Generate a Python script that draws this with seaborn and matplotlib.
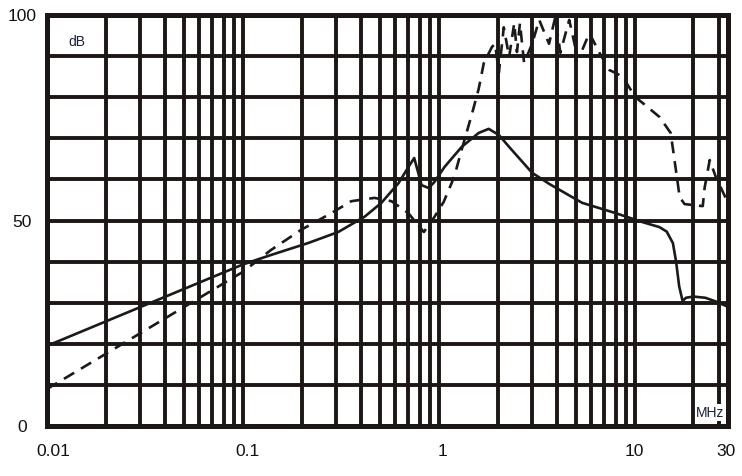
import numpy as np
import pandas as pd
import matplotlib
matplotlib.use('Agg')
import matplotlib.pyplot as plt
import matplotlib.transforms as mtrans
import seaborn as sns

# solid curve (frequency in MHz, level in dB)
solid_f = [0.01, 0.1, 0.139, 0.215, 0.307, 0.418, 0.51, 0.624, 0.70, 0.75,
           0.818, 0.889, 0.952, 1.07, 1.31, 1.6, 1.8, 2.03, 2.29, 3.0, 3.7,
           5.4, 8.0, 11.0, 13.4, 14.6, 15.7, 16.3, 16.9, 17.6, 18.3, 20.0,
           23.0, 26.0, 30.0]
solid_db = [19.5, 39.3, 41.6, 44.5, 47.2, 50.9, 54.3, 59.1, 63.0, 65.2,
            58.6, 57.9, 59.4, 63.0, 67.9, 71.3, 72.3, 70.8, 67.9, 61.6, 58.8,
            54.3, 51.8, 49.6, 48.4, 47.3, 44.5, 40.0, 34.0, 30.4, 31.2, 31.5,
            31.2, 30.3, 29.0]

# dashed curve
dash_f = [0.01, 0.1, 0.139, 0.198, 0.283, 0.358, 0.47, 0.574, 0.70, 0.84,
          0.952, 1.06, 1.2, 1.31, 1.48, 1.6, 1.7, 1.87, 1.94, 2.03, 2.15,
          2.29, 2.43, 2.51, 2.60, 2.73, 3.0, 3.26, 3.66, 3.94, 4.18, 4.64,
          4.98, 5.41, 5.88, 6.62, 7.44, 8.0, 8.68, 10.1, 11.0, 13.4, 15.3,
          16.0, 17.0, 18.0, 22.3, 22.8, 24.2, 26.0, 30.0]
dash_db = [9.0, 37.5, 42.8, 47.7, 51.8, 54.7, 55.5, 54.7, 51.8, 47.2,
           50.9, 54.5, 60.6, 67.2, 76.0, 82.0, 88.3, 92.2, 93.0, 86.0, 97.0,
           89.8, 98.0, 91.0, 98.0, 88.3, 93.0, 98.8, 93.0, 99.5, 90.8, 98.8,
           92.2, 91.5, 95.6, 90.8, 86.6, 85.9, 85.0, 80.0, 78.6, 75.2, 71.3,
           64.7, 55.7, 54.0, 53.5, 58.0, 64.7, 60.6, 54.3]

x_ticks = [0.01, 0.1, 1, 10, 30]
x_labels = ['0.01', '0.1', '1', '10', '30']
x_minor = [m * d for d in [0.01, 0.1, 1] for m in range(2, 10)] + [20, 27]
y_ticks = [0, 50, 100]
y_grid = list(range(0, 101, 10))

sns.set_style('white')
plt.rcParams['font.family'] = ['Liberation Sans', 'DejaVu Sans']

grid_c = '#1c1714'
line_c = '#1a1a1a'

fig, ax = plt.subplots(figsize=(7.42, 4.76), dpi=100)
fig.subplots_adjust(left=0.0633, right=0.9811, bottom=0.105, top=0.9685)

solid = pd.DataFrame({'f': solid_f, 'db': solid_db})
dashed = pd.DataFrame({'f': dash_f, 'db': dash_db})

sns.lineplot(data=solid, x='f', y='db', ax=ax, color=line_c, lw=1.9,
             sort=False, zorder=5)
sns.lineplot(data=dashed, x='f', y='db', ax=ax, color=line_c, lw=1.9,
             sort=False, linestyle=(0, (4.5, 3)), zorder=5)

ax.set_xscale('log')
ax.set_xlim(0.01, 30)
ax.set_ylim(0, 100)

ax.set_xticks(x_ticks)
ax.set_xticklabels(x_labels)
ax.set_xticks(x_minor, minor=True)
ax.set_xticklabels([], minor=True)
ax.set_yticks(y_grid, minor=True)
ax.set_yticks(y_ticks)
ax.set_yticklabels([str(v) for v in y_ticks])

ax.grid(which='both', color=grid_c, lw=2.8)
ax.set_axisbelow(True)
for s in ax.spines.values():
    s.set_linewidth(3.6)
    s.set_color(grid_c)

ax.tick_params(axis='both', which='both', length=0, labelsize=12.5,
               labelcolor='#111111')
ax.tick_params(axis='x', pad=13)
ax.tick_params(axis='y', pad=18)
for lab in ax.get_yticklabels():
    lab.set_horizontalalignment('center')

# labels in the original sit a little right of their grid lines
shifts = [6, 5, 4, 0, -2]
for lab, dx in zip(ax.get_xticklabels(), shifts):
    lab.set_transform(lab.get_transform() +
                      mtrans.ScaledTranslation(dx / 100, 0, fig.dpi_scale_trans))

ax.set_xlabel('')
ax.set_ylabel('')

ax.text(0.044, 0.934, 'dB', transform=ax.transAxes, fontsize=10,
        color='#1a2238', ha='center', va='center', zorder=6,
        bbox=dict(facecolor='white', edgecolor='none', pad=1))
ax.text(0.974, 0.032, 'MHz', transform=ax.transAxes, fontsize=10,
        color='#1a2238', ha='center', va='center', zorder=6,
        bbox=dict(facecolor='white', edgecolor='none', pad=1))

fig.savefig('out.png', dpi=100)
